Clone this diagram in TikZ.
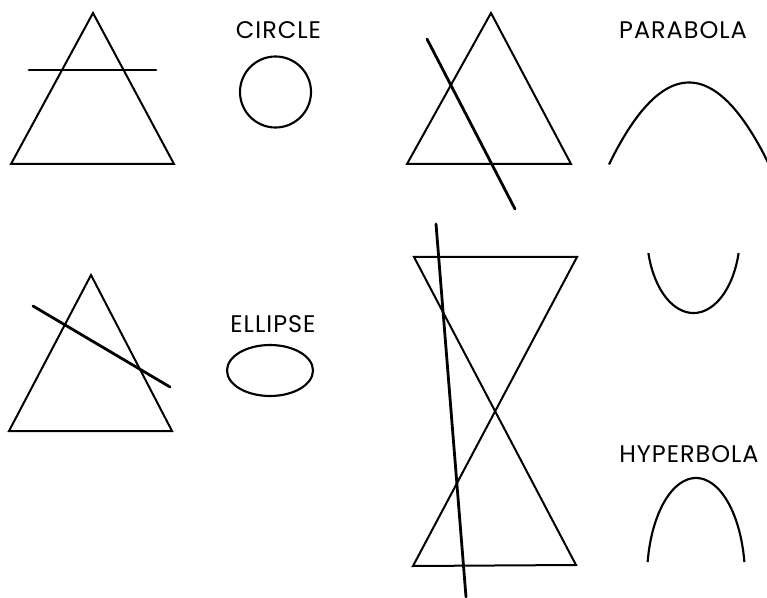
\documentclass[tikz,border=0pt]{standalone}
\usepackage{fontspec}
\setmainfont{Poppins}[LetterSpace=4]
\usetikzlibrary{calc}
\begin{document}
\begin{tikzpicture}[
x=0.75pt, y=-0.75pt,
cone/.style={line width=1.5pt, line join=miter},
cut/.style={line width=2.1pt, line cap=round},
curve/.style={line width=1.6pt},
conic/.style={font=\fontsize{18}{18}\selectfont, anchor=base, inner sep=0pt}
]
\useasboundingbox (0,0) rectangle (767,598);

\draw[cone] (93,13) -- (174,164) -- (11,164) -- cycle;
\draw[cut] (29,70) -- (156,70);
\node[conic] (circ) at (278.5,39) {CIRCLE};
\draw[curve] (275.5,92) circle[radius=35.5];

\draw[cone] (491,13) -- (571,164) -- (407,164) -- cycle;
\draw[cut] (427,39) -- (515,209);
\node[conic] (para) at (683,39) {PARABOLA};
\draw[curve] plot[domain=-80:80, samples=60] ({689+\x},{82.5+0.0128*\x*\x});

\draw[cone] (91,275) -- (172,431) -- (9,431) -- cycle;
\draw[cut] (33,306) -- (170,387);
\node[conic] (elli) at (273,333) {ELLIPSE};
\draw[curve] (270,370.5) circle[x radius=43, y radius=25.5];

\draw[cone] (414,257) -- (577,257) -- (413,566) -- (576,565) -- cycle;
\draw[cut] (436,224) -- (466,597);
\node[conic] (hyper) at (689,462) {HYPERBOLA};
\draw[curve] plot[domain=165.5:14.5, samples=60, variable=\t] ({693.5+46.6*cos(\t)},{233+80*sin(\t)});
\draw[curve] plot[domain=170.8:9.2, samples=60, variable=\t] ({696+49*cos(\t)},{578-100*sin(\t)});
\end{tikzpicture}
\end{document}
